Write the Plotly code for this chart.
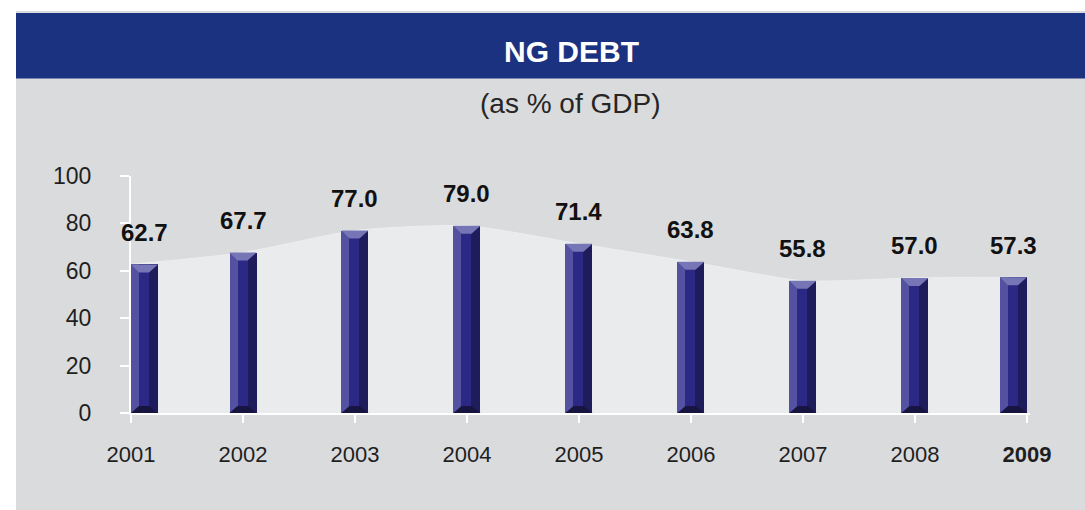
import plotly.graph_objects as go

# Data
years = ["2001", "2002", "2003", "2004", "2005", "2006", "2007", "2008", "2009"]
debt = [62.7, 67.7, 77.0, 79.0, 71.4, 63.8, 55.8, 57.0, 57.3]
y_ticks = [0, 20, 40, 60, 80, 100]

title_text = "NG DEBT"
subtitle_text = "(as % of GDP)"

# Canvas geometry (pixels)
W, H = 1085, 510
ML, MR, MT, MB = 131, 55, 176, 97
plot_w = W - ML - MR
plot_h = H - MT - MB
X_MAX = 8.027
Y_MAX = 100
px_x = plot_w / X_MAX          # pixels per x unit
px_y = plot_h / Y_MAX          # pixels per y unit


def paper_x(px):
    return (px - ML) / plot_w


def paper_y(py):
    return (H - MB - py) / plot_h


FONT = "Liberation Sans, Arial, Helvetica, sans-serif"
NAVY_HDR = "#1b3280"
PANEL = "#dadbdd"
AREA = "#eaebed"
C_LEFT = "#5351a0"
C_MID = "#2b2985"
C_RIGHT = "#1f1c5b"
C_TOP = "#7675b5"
C_BOTTOM = "#17153f"

n = len(years)
pos = list(range(n))
bar_w = 27 / px_x
# first bar sits right of the axis, last bar ends at the final tick
offsets = [0.0] + [-bar_w / 2] * (n - 2) + [-bar_w]

fig = go.Figure()

# light band following the bar tops (main axes, drawn underneath)
fig.add_trace(go.Scatter(
    x=pos, y=debt, mode="lines", fill="tozeroy", xaxis="x", yaxis="y",
    fillcolor=AREA, line=dict(color="#eceef0", width=1, shape="spline", smoothing=0.6),
    hoverinfo="skip", showlegend=False,
))

# bevelled bars built from three overlaid faces, on an overlaying axis pair
for frac, col in [(1.0, C_RIGHT), (18 / 27, C_MID), (8 / 27, C_LEFT)]:
    fig.add_trace(go.Bar(
        x=pos, y=debt, width=[bar_w * frac] * n, offset=offsets,
        xaxis="x2", yaxis="y2",
        marker=dict(color=col, line=dict(width=0)),
        hoverinfo="skip", showlegend=False,
    ))

shapes = [
    dict(type="rect", xref="paper", yref="paper",
         x0=paper_x(16), x1=paper_x(W + 5), y0=paper_y(H + 5), y1=paper_y(11),
         fillcolor=PANEL, line=dict(width=0), layer="below"),
    dict(type="rect", xref="paper", yref="paper",
         x0=paper_x(16), x1=paper_x(W + 5), y0=paper_y(78.5), y1=paper_y(13),
         fillcolor=NAVY_HDR, line=dict(width=0), layer="below"),
]

in_l = 8 / px_x
in_r = 9 / px_x
cap_h = 8 / px_y
bot_h = 7 / px_y
for p, off, v in zip(pos, offsets, debt):
    left = p + off
    right = left + bar_w
    shapes.append(dict(
        type="path", xref="x2", yref="y2", layer="above", line=dict(width=0), fillcolor=C_TOP,
        path=f"M {left},{v} L {right},{v} L {right - in_r},{v - cap_h} L {left + in_l},{v - cap_h} Z",
    ))
    shapes.append(dict(
        type="path", xref="x2", yref="y2", layer="above", line=dict(width=0), fillcolor=C_BOTTOM,
        path=f"M {left},0 L {right},0 L {right - in_r},{bot_h} L {left + in_l},{bot_h} Z",
    ))

annotations = [
    dict(xref="paper", yref="paper", x=paper_x(571), y=paper_y(52), text=f"<b>{title_text}</b>",
         showarrow=False, font=dict(family=FONT, size=30, color="white"),
         xanchor="center", yanchor="middle"),
    dict(xref="paper", yref="paper", x=paper_x(570), y=paper_y(104), text=subtitle_text,
         showarrow=False, font=dict(family=FONT, size=28, color="#262626"),
         xanchor="center", yanchor="middle"),
]
for p, off, v in zip(pos, offsets, debt):
    annotations.append(dict(
        x=p + off + bar_w / 2, y=v, xref="x2", yref="y2", text=f"<b>{v:.1f}</b>",
        showarrow=False, yshift=32, xanchor="center", yanchor="middle",
        font=dict(family=FONT, size=24, color="#111111"),
    ))

tick_text = [y if i < n - 1 else f"<b>{y}</b>" for i, y in enumerate(years)]

fig.update_layout(
    width=W, height=H,
    margin=dict(l=ML, r=MR, t=MT, b=MB, pad=0),
    paper_bgcolor="white", plot_bgcolor="rgba(0,0,0,0)",
    barmode="overlay", bargap=0,
    showlegend=False,
    shapes=shapes, annotations=annotations,
    xaxis=dict(
        range=[0, X_MAX], tickmode="array", tickvals=pos, ticktext=tick_text,
        showgrid=False, zeroline=False, showline=True, linecolor="white", linewidth=2,
        ticks="outside", ticklen=8, tickwidth=2, tickcolor="white",
        tickfont=dict(family=FONT, size=22, color="#1f1f1f"), ticklabelstandoff=13,
        fixedrange=True,
    ),
    yaxis=dict(
        range=[0, Y_MAX], tickmode="array", tickvals=y_ticks,
        showgrid=False, zeroline=False, showline=True, linecolor="white", linewidth=2,
        ticks="outside", ticklen=9, tickwidth=2, tickcolor="white",
        tickfont=dict(family=FONT, size=23, color="#1f1f1f"), ticklabelstandoff=24,
        fixedrange=True,
    ),
    xaxis2=dict(range=[0, X_MAX], overlaying="x", anchor="y2", visible=False, fixedrange=True),
    yaxis2=dict(range=[0, Y_MAX], overlaying="y", anchor="x2", visible=False, fixedrange=True),
)

fig.write_html("out.html")
